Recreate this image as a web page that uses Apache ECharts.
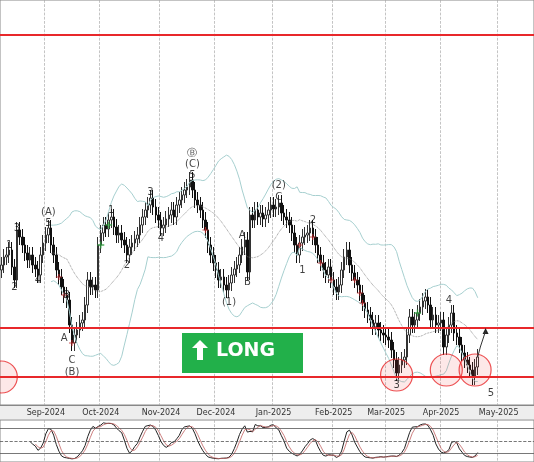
<!DOCTYPE html>
<html>
<head>
<meta charset="utf-8">
<script src="https://cdn.jsdelivr.net/npm/echarts@6/dist/echarts.min.js"></script>
<style>html,body{margin:0;padding:0;background:#fff}#main{width:534px;height:462px}</style>
</head>
<body>
<div id="main"></div>
<script>
// daily closes (chart units)
var closes = [
  140,148,150,155,138,125,175,168,160,152,
  145,150,140,136,130,150,162,170,177,160,
  150,135,128,118,110,105,80,62,70,75,
  82,85,100,125,118,120,115,160,172,180,
  176,185,188,178,170,172,165,160,150,158,
  162,166,170,180,188,195,200,207,198,190,
  185,177,180,186,190,195,188,200,205,210,
  215,218,225,215,205,200,195,185,175,160,
  150,142,135,125,128,120,115,122,130,136,
  140,150,158,165,133,190,185,195,188,192,
  186,190,195,200,196,198,202,192,188,185,
  180,172,160,150,162,168,170,172,177,168,
  160,150,142,135,130,138,125,118,113,120,
  135,148,155,140,132,125,120,112,102,95,
  90,85,78,82,75,72,70,68,65,55,
  45,32,40,45,48,70,88,80,85,92,
  98,104,108,100,85,90,80,82,85,58,
  70,80,92,72,68,60,52,45,40,35,
  28,38,48
];
var levels = [370, 77, 28];
// wave labels: [day index, value, text]
var waveLabels = [
  [3,160,'1'],[5,118,'2'],[6,177,'3'],[14,125,'4'],[18,182,'5'],[18,193,'(A)'],
  [25,110,'B'],[24,67,'A'],[27,45,'C'],[27,33,'(B)'],
  [42,195,'1'],[48,140,'2'],[57,213,'3'],[61,167,'4'],[73,230,'5'],[73,241,'(C)'],[73,252,'Ⓑ'],
  [87,103,'(1)'],[92,170,'A'],[94,123,'B'],[106,208,'C'],[106,220,'(2)'],
  [115,135,'1'],[119,185,'2'],[151,20,'3'],[171,105,'4'],[187,12,'5']
];
var redMarks = [[22,128],[24,110],[27,62],[78,175],[114,160],[119,168],[122,142],[126,125],[135,125],[137,112],[138,102]];
var greenMarks = [[38,160],[41,180],[159,92]];
var circles = [[0,28],[151,30],[170,35],[181,35]];
var arrowPath = [[182,48],[183,58],[185,74]];

var dates = [];
var d = new Date(2024, 7, 8);
while (dates.length < 204) {
  if (d.getDay() !== 0 && d.getDay() !== 6) dates.push(new Date(d));
  d.setDate(d.getDate() + 1);
}
var mon = ['Jan','Feb','Mar','Apr','May','Jun','Jul','Aug','Sep','Oct','Nov','Dec'];
var labels = dates.map(function (t) { return mon[t.getMonth()] + '-' + t.getFullYear(); });
var firstOfMonth = function (i) { return i > 0 && dates[i].getMonth() !== dates[i - 1].getMonth(); };

var ohlc = [], highs = [], lows = [];
closes.forEach(function (c, i) {
  var o = i ? closes[i - 1] : c - 5;
  var h = Math.max(o, c) + 8, l = Math.min(o, c) - 8;
  ohlc.push([o, c, l, h]); highs.push(h); lows.push(l);
});
var mid = [], up = [], dn = [];
closes.forEach(function (c, i) {
  if (i < 19) { mid.push('-'); up.push('-'); dn.push('-'); return; }
  var s = closes.slice(i - 19, i + 1);
  var m = s.reduce(function (a, b) { return a + b; }, 0) / 20;
  var sd = Math.sqrt(s.reduce(function (a, b) { return a + (b - m) * (b - m); }, 0) / 20);
  mid.push(m); up.push(m + 2 * sd); dn.push(m - 2 * sd);
});
var k = [];
closes.forEach(function (c, i) {
  if (i < 9) { k.push('-'); return; }
  var hh = Math.max.apply(null, highs.slice(i - 9, i + 1));
  var ll = Math.min.apply(null, lows.slice(i - 9, i + 1));
  k.push((c - ll) / (hh - ll) * 100);
});
var ks = k.map(function (v, i) {
  if (i < 11) return '-';
  return (k[i] + k[i - 1] + k[i - 2]) / 3;
});
var kd = ks.map(function (v, i) {
  if (i < 13) return '-';
  return (ks[i] + ks[i - 1] + ks[i - 2]) / 3;
});

var chart = echarts.init(document.getElementById('main'));
var xBase = {
  type: 'category', data: labels, boundaryGap: true,
  axisTick: { show: false }, axisLine: { lineStyle: { color: '#888' } },
  splitLine: { show: true, interval: firstOfMonth, lineStyle: { color: '#aaa', type: 'dashed', width: 0.7 } }
};
chart.setOption({
  animation: false,
  grid: [
    { left: 0, right: 0, top: 0, height: 405, show: true, borderColor: '#888' },
    { left: 0, right: 0, top: 420, height: 42, show: true, borderColor: '#888' }
  ],
  xAxis: [
    Object.assign({}, xBase, { gridIndex: 0,
      axisLabel: { interval: firstOfMonth, fontSize: 8, color: '#333', margin: 4, fontFamily: 'DejaVu Sans' } }),
    Object.assign({}, xBase, { gridIndex: 1, axisLabel: { show: false } })
  ],
  yAxis: [
    { gridIndex: 0, min: 0, max: 405, show: false },
    { gridIndex: 1, min: 0, max: 100, show: false }
  ],
  graphic: [
    { type: 'rect', shape: { x: 0, y: 405, width: 534, height: 14 }, style: { fill: '#eee' }, z: -1 },
    { type: 'rect', shape: { x: 182, y: 333, width: 121, height: 40 }, style: { fill: '#22b04a' }, z: 50 },
    { type: 'polygon', shape: { points: [[200,340],[208,348],[203,348],[203,360],[197,360],[197,348],[192,348]] }, style: { fill: '#fff' }, z: 51 },
    { type: 'text', x: 216, y: 342, style: { text: 'LONG', fill: '#fff', font: 'bold 19px "DejaVu Sans"' }, z: 51 }
  ],
  series: [
    { type: 'candlestick', data: ohlc, barWidth: 2,
      itemStyle: { color: '#fff', color0: '#111', borderColor: '#333', borderColor0: '#111', borderWidth: 1 },
      markLine: { silent: true, symbol: 'none', label: { show: false },
        lineStyle: { color: '#e8282b', type: 'solid', width: 2 },
        data: levels.map(function (v) { return { yAxis: v }; }) } },
    { type: 'line', data: up, symbol: 'none', lineStyle: { color: '#a6cfcf', width: 1 } },
    { type: 'line', data: dn, symbol: 'none', lineStyle: { color: '#a6cfcf', width: 1 } },
    { type: 'line', data: mid, symbol: 'none', lineStyle: { color: '#777', width: 0.8, type: 'dotted' } },
    { type: 'scatter', data: circles, symbolSize: 32, z: 20,
      itemStyle: { color: 'rgba(240,60,60,0.15)', borderColor: '#e8282b', borderWidth: 1.2 } },
    { type: 'scatter', data: redMarks, symbol: 'path://M4,0H6V4H10V6H6V10H4V6H0V4H4Z', symbolSize: 6, z: 25, itemStyle: { color: '#c0282b' } },
    { type: 'scatter', data: greenMarks, symbol: 'path://M4,0H6V4H10V6H6V10H4V6H0V4H4Z', symbolSize: 7, z: 25, itemStyle: { color: '#2a9a3a' } },
    { type: 'scatter', data: waveLabels, symbolSize: 0, z: 30,
      label: { show: true, formatter: function (p) { return p.data[2]; }, color: '#111', fontSize: 10, fontFamily: 'DejaVu Sans' } },
    { type: 'line', data: arrowPath, symbol: 'none', z: 30, lineStyle: { color: '#333', width: 1 },
      markPoint: { symbol: 'triangle', symbolSize: 6, itemStyle: { color: '#222' }, label: { show: false },
        data: [{ coord: arrowPath[arrowPath.length - 1] }] } },
    { type: 'line', xAxisIndex: 1, yAxisIndex: 1, data: ks, symbol: 'none', lineStyle: { color: '#222', width: 1 },
      markLine: { silent: true, symbol: 'none', label: { show: false },
        data: [{ yAxis: 80, lineStyle: { color: '#555', type: 'solid', width: 0.8 } },
               { yAxis: 50, lineStyle: { color: '#555', type: 'dashed', width: 0.8 } },
               { yAxis: 20, lineStyle: { color: '#555', type: 'solid', width: 0.8 } }] } },
    { type: 'line', xAxisIndex: 1, yAxisIndex: 1, data: kd, symbol: 'none', lineStyle: { color: '#c06060', width: 0.8 } }
  ]
});
</script>
</body>
</html>
